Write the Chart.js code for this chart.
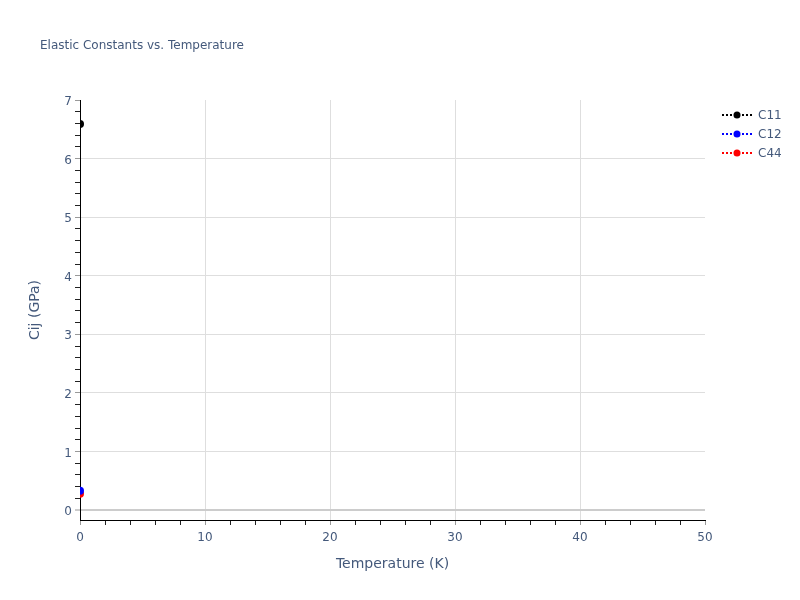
<!DOCTYPE html>
<html>
<head>
<meta charset="utf-8">
<script src="https://cdn.jsdelivr.net/npm/chart.js@4.4.1/dist/chart.umd.min.js"></script>
<style>
  html, body { margin: 0; padding: 0; background: #fff; }
  #wrap { position: relative; width: 800px; height: 600px; font-family: "DejaVu Sans", sans-serif; color: #44597b; }
  #title { position: absolute; left: 40px; top: 37px; font-size: 12px; line-height: 16px; white-space: nowrap; }
  #legend { position: absolute; left: 720px; top: 105px; font-size: 12px; }
  .item { height: 19px; display: flex; align-items: center; }
  .item svg { margin-right: 4px; }
</style>
</head>
<body>
<div id="wrap">
  <canvas id="c" width="800" height="600"></canvas>
  <div id="title">Elastic Constants vs. Temperature</div>
  <div id="legend"></div>
</div>
<script>
// ---- data ----
const seriesNames = ["C11", "C12", "C44"];
const seriesColors = ["#000000", "#0000ff", "#ff0000"];
const temperatures = [0];
const c11Values = [6.59];
const c12Values = [0.33];
const c44Values = [0.28];
const xTickLabels = [0, 10, 20, 30, 40, 50];
const yTickLabels = [0, 1, 2, 3, 4, 5, 6, 7];
const xRange = [0, 50];
const yRange = [-0.17, 7];

const seriesValues = [c11Values, c12Values, c44Values];

const xMinorStep = 2, yMinorStep = 0.2;
function stepTicks(lo, hi, step) {
  const out = [];
  const n = Math.round((hi - lo) / step);
  for (let i = 0; i <= n; i++) out.push(Math.round((lo + i * step) * 1000) / 1000);
  return out;
}
const xAllTicks = stepTicks(xTickLabels[0], xTickLabels[xTickLabels.length - 1], xMinorStep);
const yAllTicks = stepTicks(yTickLabels[0], yTickLabels[yTickLabels.length - 1], yMinorStep);
const isMajor = (v, list) => list.some(m => Math.abs(m - v) < 1e-6);

const FONT = "DejaVu Sans";
const TEXT = "#44597b";
const GRID = "#dedede";
const ZERO = "#cccccc";

const datasets = seriesNames.map((name, i) => ({
  label: name,
  data: temperatures.map((t, k) => ({ x: t, y: seriesValues[i][k] })),
  borderColor: seriesColors[i],
  backgroundColor: seriesColors[i],
  borderDash: [2, 3],
  borderWidth: 2,
  pointRadius: 4,
  pointHoverRadius: 4,
  pointBorderWidth: 0,
  showLine: true,
  clip: 0
}));

new Chart(document.getElementById("c"), {
  type: "scatter",
  data: { datasets },
  options: {
    responsive: false,
    animation: false,
    layout: { padding: { left: 0, top: 100, right: 95, bottom: 0 } },
    plugins: { legend: { display: false }, title: { display: false }, tooltip: { enabled: false } },
    scales: {
      x: {
        type: "linear",
        min: xRange[0], max: xRange[1],
        afterBuildTicks: (s) => { s.ticks = xAllTicks.map(v => ({ value: v })); },
        afterFit: (s) => { s.height = 80; },
        border: { display: true, color: "#000", width: 1 },
        grid: {
          drawTicks: true,
          tickLength: 5,
          tickWidth: 1,
          tickColor: (ctx) => isMajor(ctx.tick.value, xTickLabels) ? "#999" : "#222",
          color: (ctx) => {
            const v = ctx.tick.value;
            if (!isMajor(v, xTickLabels) || v === xRange[0] || v === xRange[1]) return "rgba(0,0,0,0)";
            return GRID;
          },
          lineWidth: 1
        },
        ticks: {
          autoSkip: false,
          maxRotation: 0,
          padding: 6,
          color: TEXT,
          font: { family: FONT, size: 12 },
          callback: (v) => isMajor(v, xTickLabels) ? String(Math.round(v)) : ""
        },
        title: {
          display: true, text: "Temperature (K)", color: TEXT,
          font: { family: FONT, size: 14 },
          padding: { top: 0, bottom: 27.6 }
        }
      },
      y: {
        type: "linear",
        min: yRange[0], max: yRange[1],
        afterBuildTicks: (s) => { s.ticks = yAllTicks.map(v => ({ value: v })); },
        afterFit: (s) => { s.width = 80; },
        border: { display: true, color: "#000", width: 1 },
        grid: {
          drawTicks: true,
          tickLength: 5,
          tickWidth: 1,
          tickColor: (ctx) => isMajor(ctx.tick.value, yTickLabels) ? "#999" : "#222",
          color: (ctx) => {
            const v = ctx.tick.value;
            if (!isMajor(v, yTickLabels) || Math.abs(v - 7) < 1e-6) return "rgba(0,0,0,0)";
            return Math.abs(v) < 1e-6 ? ZERO : GRID;
          },
          lineWidth: (ctx) => Math.abs(ctx.tick.value) < 1e-6 ? 2 : 1
        },
        ticks: {
          autoSkip: false,
          padding: 3,
          labelOffset: 2,
          color: TEXT,
          font: { family: FONT, size: 12 },
          callback: (v) => isMajor(v, yTickLabels) ? String(Math.round(v)) : ""
        },
        title: {
          display: true, text: "Cij (GPa)", color: TEXT,
          font: { family: FONT, size: 14 },
          padding: { top: 26.6, bottom: 0 }
        }
      }
    }
  }
});

// HTML legend built from the series arrays
const legend = document.getElementById("legend");
seriesNames.forEach((name, i) => {
  const div = document.createElement("div");
  div.className = "item";
  const c = seriesColors[i];
  div.innerHTML =
    '<svg width="34" height="10"><line x1="2" y1="5" x2="32" y2="5" stroke="' + c +
    '" stroke-width="2" stroke-dasharray="2,2"/><circle cx="17" cy="5" r="3.5" fill="' + c + '"/></svg>' +
    '<span>' + name + '</span>';
  legend.appendChild(div);
});
</script>
</body>
</html>
